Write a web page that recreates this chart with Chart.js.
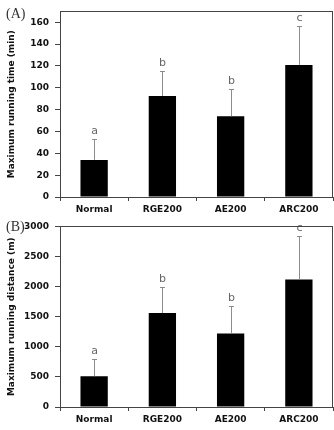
<!DOCTYPE html>
<html>
<head>
<meta charset="utf-8">
<script src="https://cdn.jsdelivr.net/npm/chart.js@4"></script>
<style>
  body { margin: 0; background: #fff; width: 334px; height: 430px; position: relative; overflow: hidden; }
  .panel { position: absolute; left: 0; width: 334px; height: 215px; }
  .tag { position: absolute; left: 6px; font-family: "Liberation Serif", serif; font-size: 14px; color: #333; }
</style>
</head>
<body>
<div class="panel" style="top:0"><canvas id="chartA"></canvas></div>
<div class="panel" style="top:215px"><canvas id="chartB"></canvas></div>
<div class="tag" style="top:6px">(A)</div>
<div class="tag" style="top:219px">(B)</div>
<script>
const groups = ['Normal', 'RGE200', 'AE200', 'ARC200'];
const timeMean = [34, 92.5, 74, 121];
const timeSd = [19.5, 22.5, 24.5, 36];
const distMean = [510, 1560, 1220, 2120];
const distSd = [295, 430, 455, 720];
const sigLetters = ['a', 'b', 'b', 'c'];
const timeTicks = [0, 20, 40, 60, 80, 100, 120, 140, 160];
const distTicks = [0, 500, 1000, 1500, 2000, 2500, 3000];

const errBars = {
    id: 'errBars',
    afterDatasetsDraw(chart, args, opts) {
        const { ctx, scales: { x, y } } = chart;
        const means = chart.data.datasets[0].data;
        ctx.save();
        means.forEach((m, i) => {
            const px = Math.round(x.getPixelForValue(i)) + 0.5;
            const base = y.getPixelForValue(m);
            const top = Math.round(y.getPixelForValue(m + opts.sd[i])) + 0.5;
            ctx.strokeStyle = '#8c8c8c';
            ctx.lineWidth = 1;
            ctx.beginPath();
            ctx.moveTo(px, base);
            ctx.lineTo(px, top);
            ctx.moveTo(px - 2.5, top);
            ctx.lineTo(px + 2.5, top);
            ctx.stroke();
            ctx.fillStyle = '#666';
            ctx.font = '11px "DejaVu Sans"';
            ctx.textAlign = 'center';
            ctx.textBaseline = 'middle';
            ctx.fillText(opts.letters[i], px, top - 8);
        });
        // box round the plot
        const a = chart.chartArea;
        ctx.strokeStyle = '#444';
        ctx.lineWidth = 1;
        ctx.strokeRect(Math.round(a.left) + 0.5, Math.round(a.top) + 0.5,
            Math.round(a.right - a.left) - 1, Math.round(a.bottom - a.top));
        ctx.restore();
    }
};

function makeChart(id, means, sd, maxY, tickVals, yTitle, xHeight) {
    return new Chart(document.getElementById(id), {
        type: 'bar',
        data: {
            labels: groups,
            datasets: [{
                data: means,
                backgroundColor: '#000',
                barPercentage: 0.4,
                categoryPercentage: 1
            }]
        },
        options: {
            responsive: true,
            maintainAspectRatio: false,
            animation: false,
            layout: { padding: { top: 11, right: 1, left: 0, bottom: 0 } },
            plugins: {
                legend: { display: false },
                tooltip: { enabled: false },
                errBars: { sd: sd, letters: sigLetters }
            },
            scales: {
                x: {
                    afterFit: s => { s.height = xHeight; },
                    grid: { display: true, drawOnChartArea: false, drawTicks: true, tickLength: 4, color: '#444' },
                    border: { color: '#444' },
                    ticks: { color: '#111', padding: 3, font: { family: 'DejaVu Sans', size: 9, weight: 'bold' } }
                },
                y: {
                    min: 0,
                    max: maxY,
                    afterFit: s => { s.width = 60; },
                    afterBuildTicks: s => { s.ticks = tickVals.map(v => ({ value: v })); },
                    grid: { display: true, drawOnChartArea: false, drawTicks: true, tickLength: 5, color: '#444' },
                    border: { color: '#444' },
                    ticks: {
                        color: '#111',
                        padding: 6,
                        font: { family: 'DejaVu Sans', size: 9, weight: 'bold' },
                        callback: v => String(v)
                    },
                    title: {
                        display: true,
                        text: yTitle,
                        color: '#111',
                        padding: { top: 6, bottom: 0 },
                        font: { family: 'DejaVu Sans', size: 9, weight: 'bold' }
                    }
                }
            }
        },
        plugins: [errBars]
    });
}

makeChart('chartA', timeMean, timeSd, 170, timeTicks, 'Maximum running time (min)', 18);
makeChart('chartB', distMean, distSd, 3000, distTicks, 'Maximum running distance (m)', 23);
</script>
</body>
</html>
